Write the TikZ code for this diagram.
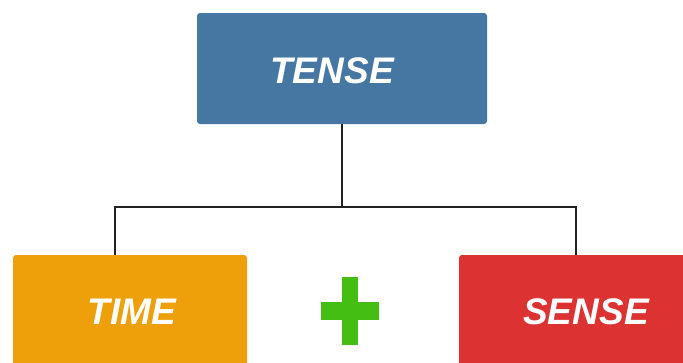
\documentclass[tikz,border=0pt]{standalone}
\usepackage{fontspec}
\setmainfont{Liberation Sans}
\definecolor{tenseblue}{HTML}{4677A3}
\definecolor{timeorange}{HTML}{EDA00A}
\definecolor{sensered}{HTML}{DC3232}
\definecolor{plusgreen}{HTML}{44BE12}
\definecolor{linegray}{HTML}{222222}
\tikzset{
  box/.style={rectangle, rounded corners=3pt, draw=none, inner sep=0pt},
  lbl/.style={text=white, font=\fontsize{37}{37}\selectfont\bfseries\itshape, inner sep=0pt, anchor=center},
  conn/.style={draw=linegray, line width=2pt}
}
\begin{document}
\begin{tikzpicture}[x=1pt,y=-1pt]
\useasboundingbox (0,0) rectangle (683,362);
\clip (0,0) rectangle (683,362);
\fill[white] (0,0) rectangle (683,362);
\node[box, fill=tenseblue, minimum width=290pt, minimum height=111pt] (tense) at (342,68.5) {};
\node[box, fill=timeorange, minimum width=234pt, minimum height=130pt] (time) at (130,320) {};
\node[box, fill=sensered, minimum width=234pt, minimum height=130pt] (sense) at (576,320) {};
\node[lbl] (tenselbl) at (332,71) {TENSE};
\node[lbl] (timelbl) at (132,312) {TIME};
\node[lbl] (senselbl) at (586,312) {SENSE};
\coordinate (lefttop) at ([xshift=-15pt]time.north);
\draw[conn] (tense.south) -- (tense.south |- 0,207);
\draw[conn] (lefttop) -- (lefttop |- 0,207) -- (sense.north |- 0,207) -- (sense.north);
\fill[plusgreen] (342,277) rectangle (358,345);
\fill[plusgreen] (321,302) rectangle (379,320);
\end{tikzpicture}
\end{document}
